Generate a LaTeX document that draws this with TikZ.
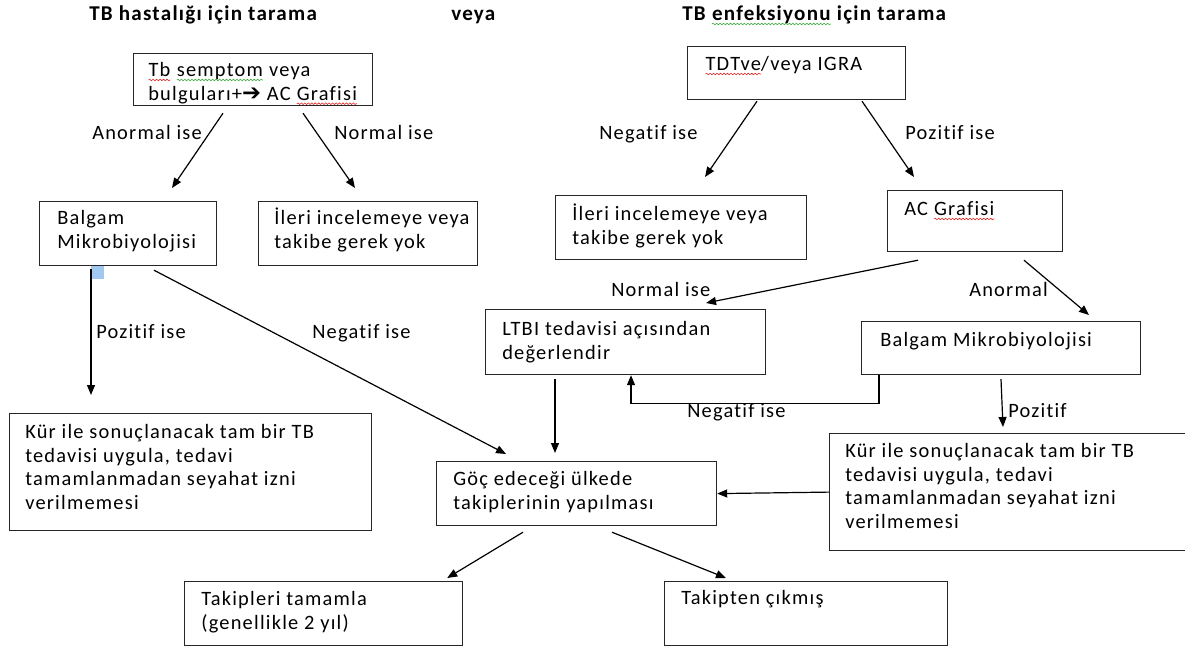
\documentclass[tikz,border=0pt]{standalone}
\usepackage{fontspec}
\setmainfont{Carlito}[Ligatures=NoCommon,LetterSpace=6]
\newfontfamily\djv{DejaVu Sans}
\usetikzlibrary{arrows.meta,calc,decorations.pathmorphing}
\definecolor{wavered}{RGB}{225,40,40}
\definecolor{wavegreen}{RGB}{60,170,60}
\definecolor{selblue}{RGB}{160,200,240}
\newcommand\wv[2]{\tikz[baseline=(w.base)]{\node[inner sep=0pt,outer sep=0pt] (w) {#2};\draw[#1,line width=0.45pt,decorate,decoration={snake,amplitude=0.6pt,segment length=2.6pt}] ([yshift=-2.6pt]w.base west) -- ([yshift=-2.6pt]w.base east);}}
\newcommand\lines[1]{\begin{tabular}[t]{@{}l@{}}#1\end{tabular}}
\begin{document}
\begin{tikzpicture}[x=0.75pt,y=-0.75pt,
  box/.style 2 args={draw=black!85,line width=0.9pt,minimum width=#1*0.75pt,minimum height=#2*0.75pt,anchor=north west,inner sep=0pt},
  txt/.style={anchor=base west,inner sep=0pt,font=\fontsize{15.3}{17.8}\selectfont},
  ttl/.style={anchor=base west,inner sep=0pt,font=\fontsize{15.8}{17}\selectfont\bfseries},
  arr/.style={-{Triangle[length=7.5pt,width=6pt]},line width=0.9pt,black}]
\useasboundingbox (0,0) rectangle (1185,646);
\fill[white] (0,0) rectangle (1185,646);

% titles
\node[ttl] (t1) at (89,20.5) {TB hastalığı için tarama};
\node[ttl] (t2) at (451,20.5) {veya};
\node[ttl] (t3) at (682,20.5) {TB \wv{wavegreen}{enfeksiyonu} için tarama};

% boxes
\node[box={239}{52}] (b1) at (133,53) {};
\node[box={218}{53}] (tdt) at (687,46) {};
\node[box={177}{64}] (balL) at (39,201) {};
\node[box={219}{64}] (ileriL) at (258,201) {};
\node[box={251}{64}] (ileriR) at (555,195) {};
\node[box={175}{61}] (ac) at (887,190) {};
\node[box={280}{65}] (ltbi) at (485,309) {};
\node[box={279}{53}] (balR) at (861,321) {};
\node[box={362}{117}] (kurL) at (9,413) {};
\node[box={280}{64}] (goc) at (436,461) {};
\node[box={372}{117}] (kurR) at (829,433) {};
\node[box={278}{64}] (takL) at (184,581) {};
\node[box={283}{64}] (takR) at (664,581) {};

% box texts
\node[txt] (b1t) at (148,76.5) {\lines{\wv{wavered}{Tb} \wv{wavegreen}{semptom} veya\\ bulguları+{\djv\fontsize{17}{17}\selectfont ➔} AC \wv{wavered}{Grafisi}}};
\node[txt] (tdtt) at (705,70.5) {\wv{wavered}{TDTve}/veya IGRA};
\node[txt] (balLt) at (57,224.5) {\lines{Balgam\\ Mikrobiyolojisi}};
\node[txt] (ileriLt) at (274,224.5) {\lines{İleri incelemeye veya\\ takibe gerek yok}};
\node[txt] (ileriRt) at (572,220.5) {\lines{İleri incelemeye veya\\ takibe gerek yok}};
\node[txt] (act) at (904,215.5) {AC \wv{wavered}{Grafisi}};
\node[txt] (ltbit) at (502,335.5) {\lines{LTBI tedavisi açısından\\ değerlendir}};
\node[txt] (balRt) at (880,346.5) {Balgam Mikrobiyolojisi};
\node[txt] (kurLt) at (25,438.5) {\lines{Kür ile sonuçlanacak tam bir TB\\ tedavisi uygula, tedavi\\ tamamlanmadan seyahat izni\\ verilmemesi}};
\node[txt] (kurRt) at (845,457.5) {\lines{Kür ile sonuçlanacak tam bir TB\\ tedavisi uygula, tedavi\\ tamamlanmadan seyahat izni\\ verilmemesi}};
\node[txt] (goct) at (453,485.5) {\lines{Göç edeceği ülkede\\ takiplerinin yapılması}};
\node[txt] (takLt) at (201,605.5) {\lines{Takipleri tamamla\\ (genellikle 2 yıl)}};
\node[txt] (takRt) at (681,604.5) {Takipten çıkmış};

% selection mark
\fill[selblue] (91,266) rectangle (104,279);

% connectors
\draw[arr] ($(b1.south west)+(90,7)$) -- ($(balL.north west)+(133,-13)$);
\draw[arr] ($(b1.south west)+(170,7)$) -- ($(ileriL.north west)+(97,-13)$);
\draw[arr] ($(tdt.south west)+(70,1)$) -- ($(ileriR.north west)+(150,-18)$);
\draw[arr] ($(tdt.south west)+(175,1)$) -- ($(ac.north west)+(27,-13)$);
\draw[arr] ($(ac.south west)+(31,8)$) -- ($(ltbi.north west)+(221,-6)$);
\draw[arr] ($(ac.south west)+(137,8)$) -- ($(balR.north west)+(228,-6)$);
\draw[arr] ($(balL.south west)+(52,3)$) -- ($(kurL.north west)+(82,-18)$);
\draw[arr] ($(balL.south west)+(115,4)$) -- ($(goc.north west)+(70,-7)$);
\draw[arr] ($(ltbi.south west)+(70,4)$) -- ($(goc.north west)+(119,-8)$);
\draw[arr] ($(balR.south west)+(18,0)$) -- ++(0,28) -| ($(ltbi.south west)+(146,0)$);
\draw[arr] ($(balR.south west)+(140,4)$) -- ($(kurR.north west)+(174,-6)$);
\draw[arr] (kurR.west) -- (goc.east);
\draw[arr] ($(goc.south west)+(87,6)$) -- ($(takL.north east)+(-16,-3)$);
\draw[arr] ($(goc.south west)+(176,6)$) -- ($(takR.north west)+(62,-3)$);

% connector labels
\node[txt] (l1) at (92,139.5) {Anormal ise};
\node[txt] (l2) at (334,139.5) {Normal ise};
\node[txt] (l3) at (599,139.5) {Negatif ise};
\node[txt] (l4) at (905,139.5) {Pozitif ise};
\node[txt] (l5) at (611,296.5) {Normal ise};
\node[txt] (l6) at (969,296.5) {Anormal};
\node[txt] (l7) at (96,338.5) {Pozitif ise};
\node[txt] (l8) at (312,338.5) {Negatif ise};
\node[txt] (l9) at (687,417.5) {Negatif ise};
\node[txt] (l10) at (1008,417.5) {Pozitif};
\end{tikzpicture}
\end{document}
